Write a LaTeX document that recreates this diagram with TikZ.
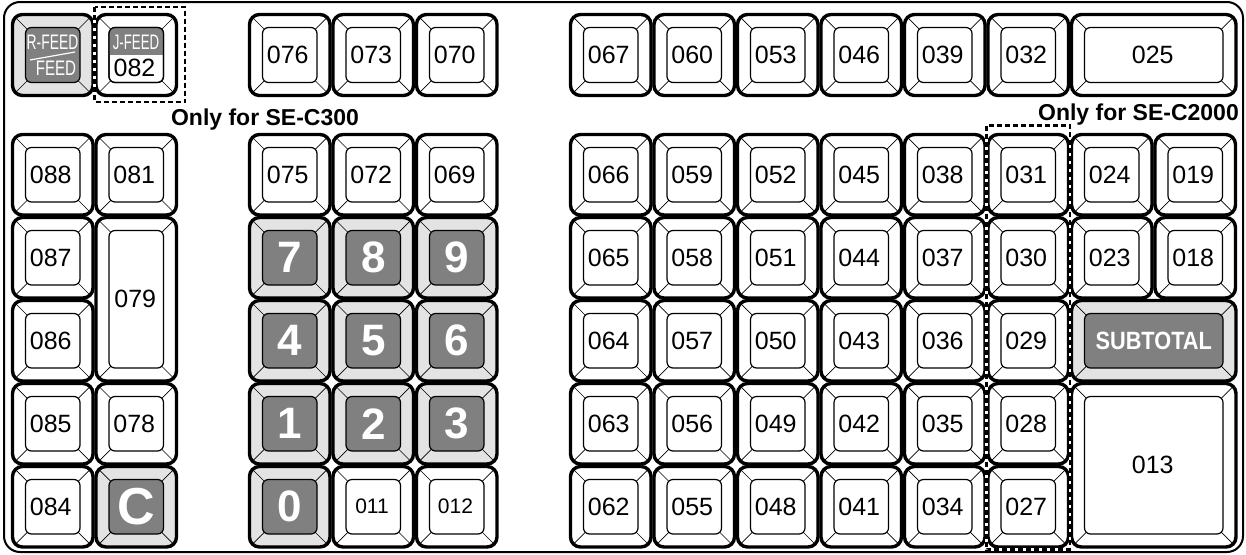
\documentclass[tikz,border=0pt]{standalone}
\usepackage{fontspec}
\setmainfont{Liberation Sans}
\usepackage{graphicx}
\definecolor{keygray}{HTML}{E3E3E3}
\definecolor{keydark}{HTML}{808080}
\tikzset{
 outerkey/.style={line width=3.4pt, rounded corners=10pt},
 innerkey/.style={line width=1.2pt, rounded corners=6pt},
 diag/.style={line width=0.7pt},
 wo/.style={fill=white}, wi/.style={fill=white},
 go/.style={fill=keygray}, gi/.style={fill=keydark},
 keytext/.style={font=\fontsize{25}{25}\selectfont, inner sep=0pt},
 smalltext/.style={font=\fontsize{21}{21}\selectfont, inner sep=0pt},
 bigtext/.style={font=\fontsize{44}{44}\selectfont\bfseries, text=white, inner sep=0pt},
 bigc/.style={font=\fontsize{52}{52}\selectfont\bfseries, text=white, inner sep=0pt},
 subtext/.style={font=\fontsize{25}{25}\selectfont\bfseries, text=white, inner sep=0pt},
 feedtext/.style={font=\fontsize{21}{21}\selectfont, text=white, inner sep=0pt},
 note/.style={font=\fontsize{23}{23}\selectfont\bfseries, inner sep=0pt},
 frame/.style={line width=2pt, rounded corners=16pt},
 dashunder/.style={draw=white, line width=2.4pt},
 dashover/.style={draw=black, line width=2.6pt, dash pattern=on 5pt off 3pt},
}
% #1 x, #2 y, #3 w, #4 h, #5 variant (w or g)
\newcommand\keyshape[5]{%
  \fill[#5o, rounded corners=10pt] (#1,#2) rectangle ({#1+#3},{#2+#4});
  \draw[diag] ({#1+2.9},{#2+2.9}) -- ({#1+14.8},{#2+14.8});
  \draw[diag] ({#1+#3-2.9},{#2+2.9}) -- ({#1+#3-14.8},{#2+14.8});
  \draw[diag] ({#1+2.9},{#2+#4-2.9}) -- ({#1+14.8},{#2+#4-14.8});
  \draw[diag] ({#1+#3-2.9},{#2+#4-2.9}) -- ({#1+#3-14.8},{#2+#4-14.8});
  \filldraw[innerkey, #5i] ({#1+13},{#2+13}) rectangle ({#1+#3-13},{#2+#4-13});
  \draw[outerkey] (#1,#2) rectangle ({#1+#3},{#2+#4});
}
\begin{document}
\begin{tikzpicture}[x=1pt,y=-1pt]
\useasboundingbox (0,0) rectangle (1246,554);
\draw[frame] (4,2) rectangle (1243,552);

% ---- left block, top row
\keyshape{12.5}{14.5}{80.5}{81}{g}
\node[feedtext] (rfeed) at (52.5,42.5) {\scalebox{0.66}[1]{R-FEED}};
\node[feedtext] (feed) at (56,68) {\scalebox{0.72}[1]{FEED}};
\draw[white, line width=1.2pt] (30,60) -- (75,52);
\keyshape{96}{14.5}{80.5}{81}{w}
\begin{scope}
  \clip[rounded corners=6pt] (109,27.5) rectangle (163.5,82.5);
  \fill[keydark] (109,27.5) rectangle (163.5,55);
\end{scope}
\draw[innerkey] (109,27.5) rectangle (163.5,82.5);
\node[feedtext] (jfeed) at (136,42) {\scalebox{0.63}[1]{J-FEED}};
\node[keytext] (k082) at (134.5,68) {082};

% ---- left block, rows 1-5
\foreach \r in {1,...,5}{
  \pgfmathsetmacro\yy{134.5+83*(\r-1)}
  \pgfmathtruncatemacro\nn{89-\r}
  \keyshape{12.5}{\yy}{80.5}{80.5}{w}
  \node[keytext] (k\nn) at (50.75,{\yy+40.25}) {0\nn};
}
\keyshape{96}{134.5}{80.5}{80.5}{w}
\node[keytext] (k081) at (134.25,174.75) {081};
\keyshape{96}{217.5}{80.5}{163.5}{w}
\node[keytext] (k079) at (135.25,299.25) {079};
\keyshape{96}{383.5}{80.5}{80.5}{w}
\node[keytext] (k078) at (134.25,423.75) {078};
\keyshape{96}{466.5}{80.5}{80.5}{g}
\node[bigc] (kC) at (136.25,506.75) {C};

% ---- middle block
\foreach \m in {0,1,2}{
  \pgfmathsetmacro\xx{249.5+83.5*\m}
  \pgfmathtruncatemacro\nn{76-3*\m}
  \pgfmathtruncatemacro\mm{75-3*\m}
  \keyshape{\xx}{14.5}{80.5}{81}{w}
  \node[keytext] (k\nn) at ({\xx+38.25},55) {0\nn};
  \keyshape{\xx}{134.5}{80.5}{80.5}{w}
  \node[keytext] (k\mm) at ({\xx+38.25},174.75) {0\mm};
}
\foreach \r in {2,3,4}{
  \foreach \m in {0,1,2}{
    \pgfmathsetmacro\xx{249.5+83.5*\m}
    \pgfmathsetmacro\yy{134.5+83*(\r-1)}
    \pgfmathtruncatemacro\dd{7-3*(\r-2)+\m}
    \keyshape{\xx}{\yy}{80.5}{80.5}{g}
    \node[bigtext] (d\dd) at ({\xx+40.25},{\yy+40.25}) {\dd};
  }
}
\keyshape{249.5}{466.5}{80.5}{80.5}{g}
\node[bigtext] (d0) at (289.75,506.75) {0};
\keyshape{333}{466.5}{80.5}{80.5}{w}
\node[smalltext] (k011) at (372,506.75) {011};
\keyshape{416.5}{466.5}{80.5}{80.5}{w}
\node[smalltext] (k012) at (455.5,506.75) {012};

% ---- right block
\foreach \k in {0,...,5}{
  \pgfmathsetmacro\xx{570.5+83.5*\k}
  \pgfmathtruncatemacro\nn{67-7*\k}
  \keyshape{\xx}{14.5}{80.5}{81}{w}
  \node[keytext] (k\nn) at ({\xx+38.25},55) {0\nn};
  \foreach \r in {1,...,5}{
    \pgfmathsetmacro\yy{134.5+83*(\r-1)}
    \pgfmathtruncatemacro\nn{66-7*\k-(\r-1)}
    \keyshape{\xx}{\yy}{80.5}{80.5}{w}
    \node[keytext] (k\nn) at ({\xx+38.25},{\yy+40.25}) {0\nn};
  }
}
\keyshape{1071.5}{14.5}{164.5}{81}{w}
\node[keytext] (k025) at (1152.75,55) {025};
\foreach \r in {1,2}{
  \pgfmathsetmacro\yy{134.5+83*(\r-1)}
  \pgfmathtruncatemacro\na{25-\r}
  \pgfmathtruncatemacro\nb{20-\r}
  \keyshape{1071.5}{\yy}{80.5}{80.5}{w}
  \node[keytext] (k\na) at (1109.75,{\yy+40.25}) {0\na};
  \keyshape{1155}{\yy}{80.5}{80.5}{w}
  \node[keytext] (k\nb) at (1193.25,{\yy+40.25}) {0\nb};
}
\keyshape{1071.5}{300.5}{164.5}{80.5}{g}
\node[subtext] (ksub) at (1153.75,340.75) {\scalebox{0.87}[1]{SUBTOTAL}};
\keyshape{1071.5}{383.5}{164.5}{163.5}{w}
\node[keytext] (k013) at (1152.75,465.25) {013};

% ---- notes and dashed outlines
\node[note, anchor=base] (n300) at (265,125) {Only for SE-C300};
\node[note, anchor=base east] (n2000) at (1239,120) {Only for SE-C2000};
\draw[dashunder] (94.5,7) rectangle (185,102);
\draw[dashover] (94.5,7) rectangle (185,102);
\draw[dashunder] (986.3,125.5) rectangle (1070,549.5);
\draw[dashover] (986.3,125.5) rectangle (1070,549.5);
\end{tikzpicture}
\end{document}
